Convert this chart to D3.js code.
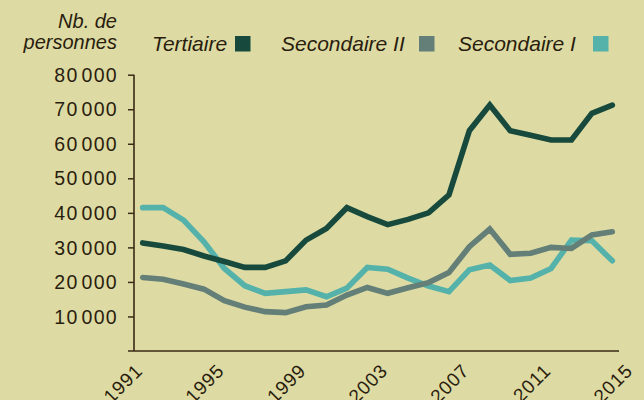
<!DOCTYPE html>
<html>
<head>
<meta charset="utf-8">
<script src="https://cdn.jsdelivr.net/npm/d3@7"></script>
<style>
  html, body { margin: 0; padding: 0; background: #dddba3; }
  svg { display: block; }
  text { font-family: "Liberation Sans", Arial, sans-serif; fill: #2a1d0e; }
</style>
</head>
<body>
<script>
'use strict';

var years = [1991, 1992, 1993, 1994, 1995, 1996, 1997, 1998, 1999, 2000, 2001, 2002,
  2003, 2004, 2005, 2006, 2007, 2008, 2009, 2010, 2011, 2012, 2013, 2014];

var tertiaire = [31300, 30400, 29400, 27500, 25900, 24200, 24200, 26100, 32100, 35500, 41500, 38900,
  36600, 38100, 40000, 45200, 63800, 71200, 63800, 62500, 61100, 61100, 68800, 71200];
var secondaireII = [21300, 20800, 19400, 17900, 14600, 12700, 11400, 11100, 12800, 13300, 16200, 18400,
  16700, 18300, 19800, 22700, 30200, 35300, 28000, 28300, 30000, 29700, 33600, 34500];
var secondaireI = [41500, 41500, 37900, 31600, 23900, 18900, 16700, 17200, 17700, 15700, 18200, 24200,
  23700, 21100, 18800, 17200, 23500, 24900, 20400, 21100, 23900, 32100, 31900, 26100];

var seriesNames = ['Tertiaire', 'Secondaire II', 'Secondaire I'];
var colors = ['#174a3d', '#637f78', '#54b2aa'];
var yTicks = [10000, 20000, 30000, 40000, 50000, 60000, 70000, 80000];
var xTicks = [1991, 1995, 1999, 2003, 2007, 2011, 2015];

var width = 644, height = 400;
var ink = '#3a2914';

var svg = d3.select('body').append('svg')
  .attr('width', width)
  .attr('height', height);

var x = d3.scaleLinear().domain([1991, 2014]).range([142.7, 612.3]);
var y = d3.scaleLinear().domain([0, 80000]).range([351, 74.7]);

// y axis
var yAxis = svg.append('g')
  .attr('transform', 'translate(134,0)')
  .call(d3.axisLeft(y)
    .tickValues(yTicks)
    .tickSize(6)
    .tickPadding(10)
    .tickFormat(function (d) { return d3.format(',')(d).replace(',', '\u200A'); }));
yAxis.select('.domain').remove();
yAxis.selectAll('.tick line').attr('stroke', ink).attr('stroke-width', 1.5);
yAxis.selectAll('.tick text')
  .attr('dy', '0.34em')
  .style('font-size', '19.5px')
  .style('letter-spacing', '1.3px')
  .style('font-family', '"Liberation Sans", Arial, sans-serif')
  .attr('fill', '#241809');

// axis lines
svg.append('line')
  .attr('x1', 134).attr('x2', 134)
  .attr('y1', y(80000)).attr('y2', y(0))
  .attr('stroke', ink).attr('stroke-width', 1.6);
svg.append('line')
  .attr('x1', 128).attr('x2', 619)
  .attr('y1', y(0)).attr('y2', y(0))
  .attr('stroke', ink).attr('stroke-width', 1.6);

// x labels (cut by the bottom edge, as in the original)
svg.append('g').selectAll('text')
  .data(xTicks)
  .join('text')
  .attr('text-anchor', 'end')
  .attr('transform', function (d) { return 'translate(' + (x(d) + 1) + ',372) rotate(-45)'; })
  .style('font-size', '19px')
  .style('letter-spacing', '0.8px')
  .text(function (d) { return d; });

// lines
var line = d3.line()
  .x(function (d, i) { return x(years[i]); })
  .y(function (d) { return y(d); });

var data = [tertiaire, secondaireII, secondaireI];
[2, 1, 0].forEach(function (k) {
  svg.append('path')
    .datum(data[k])
    .attr('d', line)
    .attr('fill', 'none')
    .attr('stroke', colors[k])
    .attr('stroke-width', 5.6)
    .attr('stroke-linejoin', 'miter')
    .attr('stroke-linecap', 'round');
});

// y title
var title = svg.append('text')
  .attr('text-anchor', 'end')
  .style('font-size', '20px')
  .style('font-style', 'italic');
title.append('tspan').attr('x', 117).attr('y', 28).text('Nb. de');
title.append('tspan').attr('x', 117).attr('y', 49).text('personnes');

// legend
var legendX = [152, 281, 458];
var boxX = [235, 419, 593];
var legend = svg.append('g').selectAll('g')
  .data(seriesNames)
  .join('g');
legend.append('text')
  .attr('x', function (d, i) { return legendX[i]; })
  .attr('y', 50.5)
  .style('font-size', '21px')
  .style('font-style', 'italic')
  .text(function (d) { return d; });
legend.append('rect')
  .attr('x', function (d, i) { return boxX[i]; })
  .attr('y', 36)
  .attr('width', 15.5)
  .attr('height', 15.5)
  .attr('fill', function (d, i) { return colors[i]; });
</script>
</body>
</html>
